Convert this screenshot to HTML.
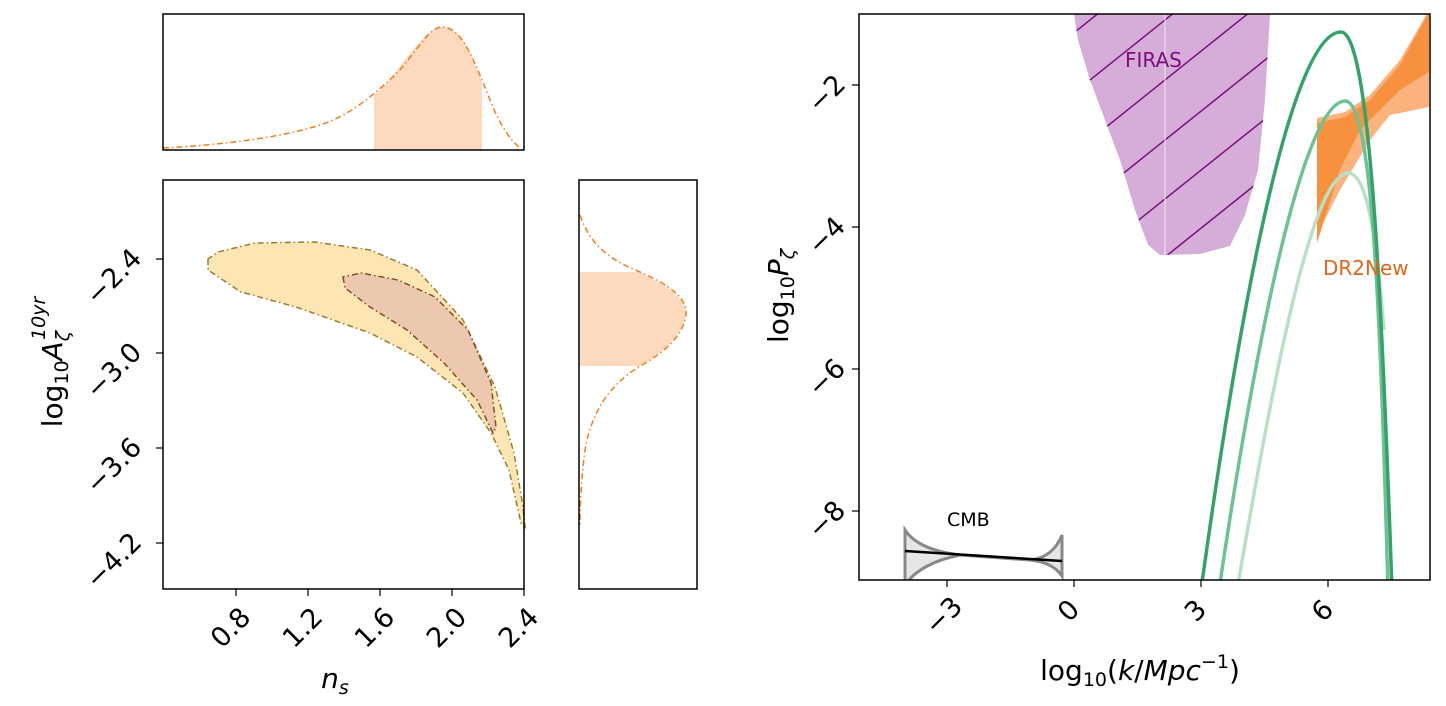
<!DOCTYPE html>
<html><head><meta charset="utf-8"><style>
html,body{margin:0;padding:0;background:#fff;}
svg{display:block;font-family:"DejaVu Sans","Liberation Sans",sans-serif;}
</style></head><body>
<svg width="1446" height="706" viewBox="0 0 1446 706" xmlns="http://www.w3.org/2000/svg">
<defs>
<clipPath id="cr"><rect x="859" y="14" width="571" height="566"/></clipPath>
<clipPath id="firas"><path d="M1074,14 L1078,40 L1090,80 L1105,120 L1120,160 L1135,210 L1148,245 L1160,255 L1200,254 L1230,246 L1245,215 L1258,170 L1265,100 L1270,14 Z"/></clipPath>
</defs>
<!-- top marginal -->
<path d="M374,150 L374,95 C395,80 420,30 442,27 C460,26 472,55 482,82 L482,150 Z" fill="#fdd9bd"/>
<path d="M163,148 C220,145 280,138 320,125 C350,115 370,98 395,75 C415,55 428,27 442,27 C462,27 474,60 490,100 C500,125 510,140 520,148" fill="none" stroke="#f07f1a" stroke-width="1.5" stroke-dasharray="6,3,1.5,3"/>
<rect x="163" y="14" width="361" height="136" fill="none" stroke="#000" stroke-width="1.5"/>
<!-- main 2D -->
<path d="M208,259 L208,270 L241,292 L296,307 L370,333 L417,357 L463,393 L491,433 L509,470 L521,523 L525,527 L523,507 L514,453 L495,387 L463,320 L417,270 L370,250 L315,242 L255,243 L218,252 Z" fill="#fde5b4" stroke="#a07a2a" stroke-width="1.5" stroke-dasharray="6,3,1.5,3"/>
<path d="M343,277 L345,288 L370,307 L407,330 L444,363 L477,400 L493,433 L496,427 L491,383 L468,330 L435,297 L398,280 L361,273 Z" fill="#ecc8ae" stroke="#8a4a20" stroke-width="1.5" stroke-dasharray="6,3,1.5,3"/>
<rect x="163" y="180" width="361" height="409" fill="none" stroke="#000" stroke-width="1.5"/>
<g stroke="#000" stroke-width="1.2">
<line x1="236" y1="589" x2="236" y2="596"/><line x1="308" y1="589" x2="308" y2="596"/><line x1="380" y1="589" x2="380" y2="596"/><line x1="452" y1="589" x2="452" y2="596"/><line x1="524" y1="589" x2="524" y2="596"/>
<line x1="156" y1="259" x2="163" y2="259"/><line x1="156" y1="353" x2="163" y2="353"/><line x1="156" y1="448" x2="163" y2="448"/><line x1="156" y1="543" x2="163" y2="543"/>
</g>
<g font-size="27" fill="#000" text-anchor="middle" dominant-baseline="central">
<text transform="translate(231,628) rotate(-45)">0.8</text>
<text transform="translate(303,628) rotate(-45)">1.2</text>
<text transform="translate(375,628) rotate(-45)">1.6</text>
<text transform="translate(447,628) rotate(-45)">2.0</text>
<text transform="translate(519,628) rotate(-45)">2.4</text>
<text transform="translate(114,277) rotate(-45)">−2.4</text>
<text transform="translate(114,371) rotate(-45)">−3.0</text>
<text transform="translate(114,466) rotate(-45)">−3.6</text>
<text transform="translate(114,561) rotate(-45)">−4.2</text>
</g>
<text x="335" y="688" font-size="28" font-style="italic" text-anchor="middle">n<tspan font-size="19" dy="6">s</tspan></text>
<text transform="translate(62,362) rotate(-90)" font-size="28" text-anchor="middle">log<tspan font-size="19" dy="6">10</tspan><tspan dy="-6" font-style="italic">A</tspan><tspan font-size="19" font-style="italic" dy="7">ζ</tspan><tspan font-size="19" font-style="italic" dx="-9" dy="-24">10yr</tspan></text>
<!-- right marginal -->
<path d="M579,272 L640,272 C665,285 686,298 686,312 C686,330 668,350 640,366 L579,366 Z" fill="#fdd9bd"/>
<path d="M580,215 C590,245 610,260 640,272 C670,285 686,298 686,312 C686,330 670,350 640,366 C610,385 592,410 585,450 C581,480 580,510 580,525" fill="none" stroke="#f07f1a" stroke-width="1.5" stroke-dasharray="6,3,1.5,3"/>
<rect x="579" y="180" width="118" height="409" fill="none" stroke="#000" stroke-width="1.5"/>
<!-- right panel -->
<g clip-path="url(#cr)">
<path d="M1074,14 L1078,40 L1090,80 L1105,120 L1120,160 L1135,210 L1148,245 L1160,255 L1200,254 L1230,246 L1245,215 L1258,170 L1265,100 L1270,14 Z" fill="#d6acd9"/>
<g clip-path="url(#firas)" stroke="#7a0f80" stroke-width="1.5">
<line x1="1040" y1="60" x2="1140" y2="-20"/><line x1="1040" y1="120" x2="1200" y2="-8"/><line x1="1040" y1="180" x2="1260" y2="4"/><line x1="1040" y1="240" x2="1300" y2="32"/><line x1="1070" y1="275" x2="1300" y2="91"/><line x1="1130" y1="285" x2="1300" y2="149"/><line x1="1190" y1="295" x2="1300" y2="207"/>
</g>
<line x1="1165" y1="14" x2="1165" y2="255" stroke="#f4e6f5" stroke-width="1"/>
<path d="M1317,118 L1345,112 L1370,95 L1400,60 L1429,10 L1429,107 L1405,112 L1390,115 L1370,140 L1340,190 L1317,235 Z" fill="#fbb27c"/>
<path d="M1317,123 L1345,117 L1370,100 L1400,65 L1429,12 L1429,72 L1400,90 L1380,110 L1360,130 L1340,170 L1317,243 Z" fill="#f7913d"/>
<path d="M1237,590 C1270,400 1310,175 1348,173 C1370,173 1378,260 1384,330" fill="none" stroke="#b8e0c8" stroke-width="3.5"/>
<path d="M1219,590 C1250,380 1300,102 1345,101 C1372,101 1380,300 1388,590" fill="none" stroke="#6cc294" stroke-width="3.5"/>
<path d="M1201,590 C1230,380 1285,32 1341,32 C1370,32 1382,300 1392,590" fill="none" stroke="#33a36a" stroke-width="3.5"/>
<path d="M905,530 C915,545 935,552 960,555 L1030,560 C1050,558 1058,545 1062,535 L1062,576 C1058,570 1050,562 1030,560 L960,555 C935,560 915,570 905,585 Z" fill="#e6e6e6" stroke="#888" stroke-width="3"/>
<line x1="905" y1="551" x2="1062" y2="561" stroke="#000" stroke-width="2.5"/>
</g>
<rect x="859" y="14" width="571" height="566" fill="none" stroke="#000" stroke-width="1.5"/>
<text x="1125" y="67" font-size="20" fill="#7a0f80">FIRAS</text>
<text x="1323" y="275" font-size="20" fill="#e0661a">DR2New</text>
<text x="947" y="526" font-size="19" fill="#000">CMB</text>
<g stroke="#000" stroke-width="1.2">
<line x1="947" y1="580" x2="947" y2="587"/><line x1="1074" y1="580" x2="1074" y2="587"/><line x1="1201" y1="580" x2="1201" y2="587"/><line x1="1328" y1="580" x2="1328" y2="587"/>
<line x1="852" y1="85" x2="859" y2="85"/><line x1="852" y1="227" x2="859" y2="227"/><line x1="852" y1="369" x2="859" y2="369"/><line x1="852" y1="511" x2="859" y2="511"/>
</g>
<g font-size="27" fill="#000" text-anchor="middle" dominant-baseline="central">
<text transform="translate(944,616) rotate(-45)">−3</text>
<text transform="translate(1069,611) rotate(-45)">0</text>
<text transform="translate(1196,611) rotate(-45)">3</text>
<text transform="translate(1323,611) rotate(-45)">6</text>
<text transform="translate(827,94) rotate(-45)">−2</text>
<text transform="translate(827,236) rotate(-45)">−4</text>
<text transform="translate(827,378) rotate(-45)">−6</text>
<text transform="translate(827,520) rotate(-45)">−8</text>
</g>
<text x="1140" y="680" font-size="28" text-anchor="middle">log<tspan font-size="19" dy="6">10</tspan><tspan dy="-6">(</tspan><tspan font-style="italic">k</tspan>/<tspan font-style="italic">Mpc</tspan><tspan font-size="19" dy="-12">−1</tspan><tspan dy="12">)</tspan></text>
<text transform="translate(788,296) rotate(-90)" font-size="28" text-anchor="middle">log<tspan font-size="19" dy="6">10</tspan><tspan dy="-6" font-style="italic">P</tspan><tspan font-size="19" font-style="italic" dy="6">ζ</tspan></text>
</svg>
</body></html>
